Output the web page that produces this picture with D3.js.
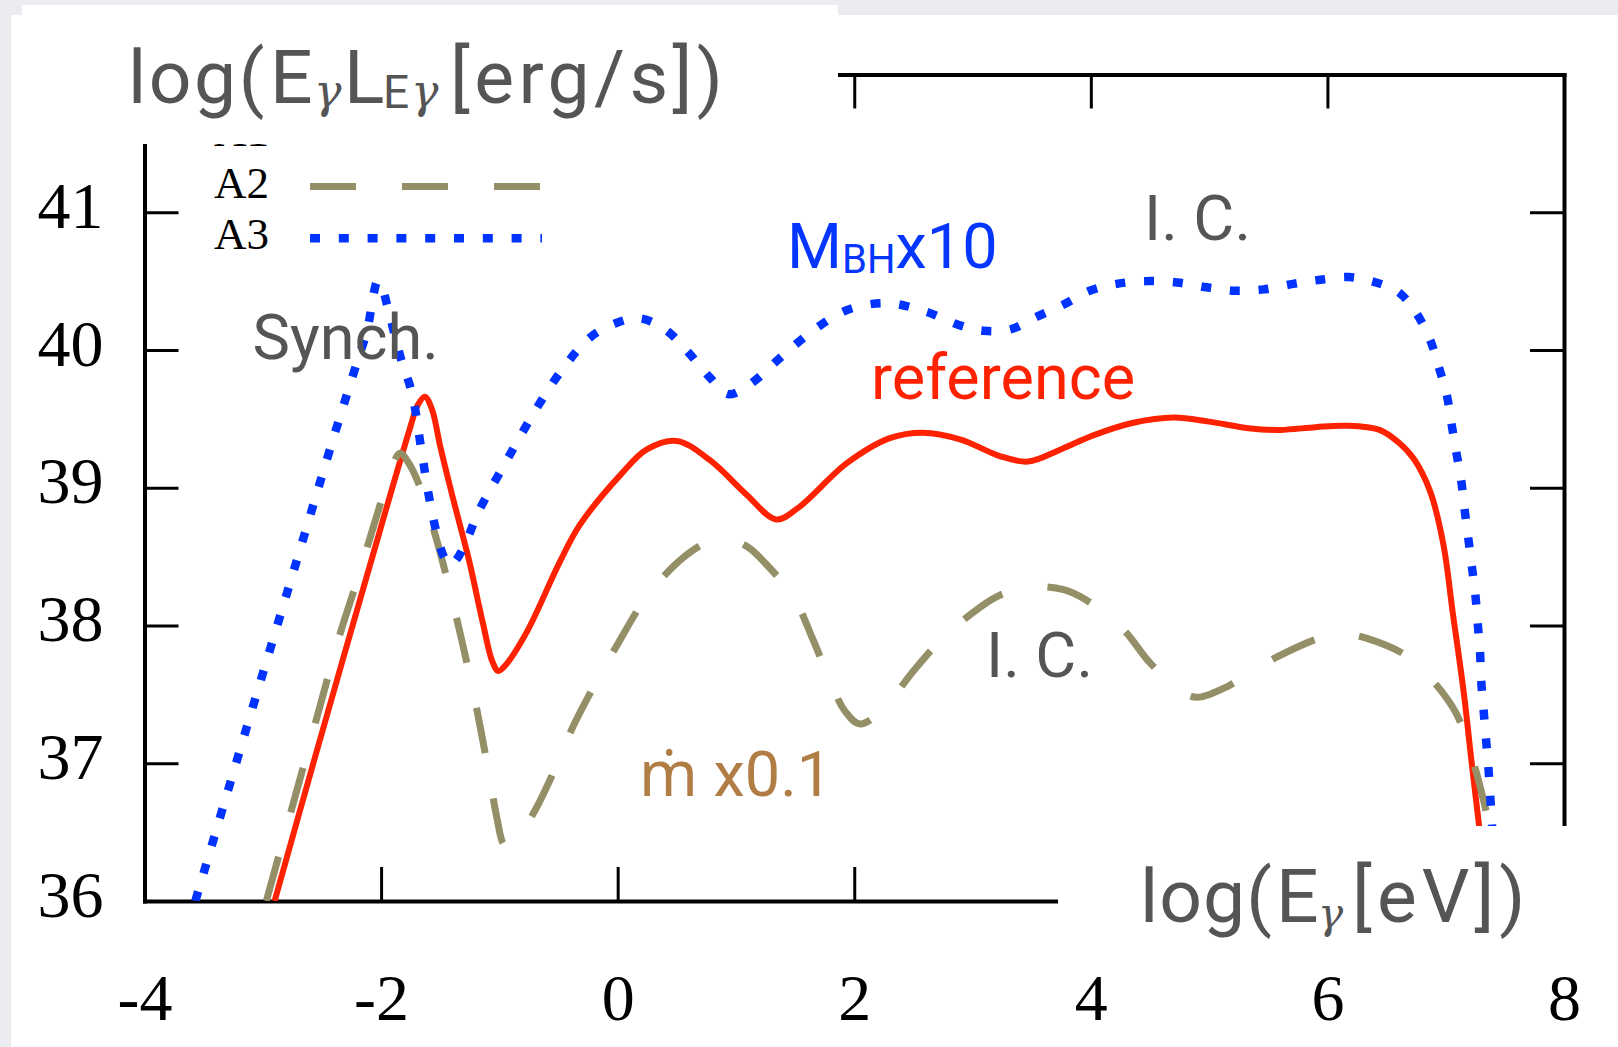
<!DOCTYPE html>
<html>
<head>
<meta charset="utf-8">
<script src="https://cdn.jsdelivr.net/npm/d3@7"></script>
<style>
  html, body { margin: 0; padding: 0; background: #eaecf0; }
  svg { display: block; }
</style>
</head>
<body>
<svg id="chart" width="1618" height="1047"></svg>
<script>
// Axis ticks
const xTicks = [-4, -2, 0, 2, 4, 6, 8];
const yTicks = [36, 37, 38, 39, 40, 41];
const xInnerTicks = [-2, 0, 2, 4, 6];
const yInnerTicks = [37, 38, 39, 40, 41];

// Legend entries
const seriesNames = ["A1", "A2", "A3"];

// Spectra: [log(E_gamma [eV]), log(E_gamma L_E_gamma [erg/s])]
// A1: reference model
const refCurve = [
  [-2.90, 36.00], [-2.54, 37.10], [-2.10, 38.42], [-1.76, 39.42], [-1.69, 39.60],
  [-1.63, 39.66], [-1.57, 39.57], [-1.50, 39.30], [-1.40, 38.95], [-1.30, 38.62],
  [-1.25, 38.45], [-1.14, 38.02], [-1.06, 37.74], [-1.01, 37.67], [-0.95, 37.71],
  [-0.77, 37.95], [-0.49, 38.46], [-0.32, 38.73], [0.02, 39.09], [0.25, 39.28],
  [0.50, 39.34], [0.78, 39.20], [1.09, 38.95], [1.34, 38.77], [1.52, 38.85],
  [1.94, 39.18], [2.30, 39.36], [2.58, 39.40], [2.90, 39.35], [3.23, 39.23],
  [3.47, 39.19], [3.75, 39.28], [4.02, 39.38], [4.35, 39.47], [4.70, 39.51],
  [5.00, 39.48], [5.35, 39.43], [5.60, 39.42], [5.90, 39.44], [6.16, 39.45],
  [6.44, 39.42], [6.60, 39.33], [6.73, 39.21], [6.87, 38.97], [6.98, 38.59],
  [7.06, 38.09], [7.15, 37.53], [7.22, 37.00], [7.28, 36.56], [7.33, 36.15],
  [7.35, 36.00]
];

// A2: accretion rate x0.1
const mdotCurve = [
  [-2.97, 36.00], [-2.54, 37.34], [-2.35, 37.93], [-2.22, 38.28], [-2.00, 38.90],
  [-1.90, 39.17], [-1.84, 39.25], [-1.76, 39.17], [-1.66, 38.98], [-1.55, 38.68],
  [-1.44, 38.33], [-1.32, 37.90], [-1.20, 37.43], [-1.10, 36.98], [-1.02, 36.60],
  [-0.97, 36.42], [-0.93, 36.39], [-0.88, 36.42], [-0.71, 36.64], [-0.54, 36.94],
  [-0.375, 37.27], [-0.21, 37.545], [-0.01, 37.85], [0.19, 38.14], [0.33, 38.30],
  [0.55, 38.49], [0.75, 38.60], [0.935, 38.625], [1.10, 38.57], [1.25, 38.45],
  [1.49, 38.20], [1.65, 37.90], [1.80, 37.59], [1.92, 37.38], [2.05, 37.285],
  [2.25, 37.40], [2.50, 37.67], [2.75, 37.91], [3.06, 38.13], [3.23, 38.22],
  [3.50, 38.28], [3.77, 38.26], [3.95, 38.19], [4.27, 37.975], [4.51, 37.72],
  [4.81, 37.50], [4.92, 37.48], [5.15, 37.555], [5.37, 37.67], [5.57, 37.77],
  [5.94, 37.91], [6.13, 37.94], [6.32, 37.91], [6.67, 37.78], [6.89, 37.60],
  [7.09, 37.36], [7.23, 37.02], [7.32, 36.73], [7.40, 36.40], [7.45, 36.00]
];

// A3: black hole mass x10
const mbhCurve = [
  [-3.57, 36.00], [-3.15, 37.22], [-2.71, 38.48], [-2.40, 39.37], [-2.20, 39.92],
  [-2.116, 40.15], [-2.06, 40.42], [-2.03, 40.50], [-1.99, 40.45], [-1.95, 40.33],
  [-1.83, 39.93], [-1.74, 39.69], [-1.66, 39.28], [-1.60, 38.96], [-1.53, 38.67],
  [-1.47, 38.50], [-1.42, 38.44], [-1.37, 38.47], [-1.275, 38.62], [-1.18, 38.82],
  [-0.95, 39.18], [-0.69, 39.57], [-0.45, 39.88], [-0.22, 40.10], [0.00, 40.20],
  [0.19, 40.23], [0.40, 40.15], [0.58, 40.00], [0.78, 39.80], [0.935, 39.68],
  [1.10, 39.74], [1.37, 39.94], [1.65, 40.14], [1.94, 40.29], [2.27, 40.34],
  [2.60, 40.28], [2.89, 40.18], [3.09, 40.14], [3.32, 40.15], [3.54, 40.24],
  [3.77, 40.33], [3.99, 40.43], [4.22, 40.48], [4.47, 40.50], [4.73, 40.49],
  [4.98, 40.455], [5.22, 40.43], [5.46, 40.44], [5.71, 40.48], [5.94, 40.51],
  [6.18, 40.53], [6.37, 40.50], [6.60, 40.42], [6.75, 40.27], [6.87, 40.07],
  [6.94, 39.88], [7.01, 39.67], [7.05, 39.46], [7.09, 39.255], [7.13, 39.06],
  [7.16, 38.84], [7.19, 38.64], [7.22, 38.435], [7.25, 38.23], [7.27, 38.02],
  [7.29, 37.81], [7.30, 37.60], [7.32, 37.39], [7.34, 37.18], [7.36, 36.98],
  [7.375, 36.78], [7.39, 36.57], [7.41, 36.30], [7.43, 36.00]
];

const W = 1618, H = 1047;
const svg = d3.select("#chart");

const x = d3.scaleLinear().domain([-4, 8]).range([144.5, 1564]);
const y = d3.scaleLinear().domain([36, 42]).range([901, 74.5]);

const SERIF = "'Liberation Serif', 'Times New Roman', serif";
const MATH = "'DejaVu Serif', 'Liberation Serif', serif";
const SANS = "Roboto, 'Noto Sans', 'DejaVu Sans', sans-serif";
const GRAY = "#555555";

// page background and white sheet
svg.append("rect").attr("width", W).attr("height", H).attr("fill", "#eaecf0");
svg.append("rect").attr("x", 11).attr("y", 15).attr("width", W - 11).attr("height", H - 15).attr("fill", "#ffffff");

const defs = svg.append("defs");
defs.append("clipPath").attr("id", "plot-clip")
  .append("rect")
  .attr("x", x(-4)).attr("y", y(42))
  .attr("width", x(8) - x(-4)).attr("height", y(36) - y(42));

// frame and inward ticks
function styleAxis(g) {
  g.attr("fill", null);
  g.select(".domain").attr("stroke", "#000").attr("stroke-width", 4).attr("stroke-linecap", "square");
  g.selectAll(".tick line").attr("stroke", "#000").attr("stroke-width", 3);
}

const gBottom = svg.append("g")
  .attr("transform", `translate(0,${y(36)})`)
  .call(d3.axisBottom(x).tickValues(xTicks).tickSizeInner(-34).tickSizeOuter(0)
    .tickPadding(0).tickFormat(d => String(d)));
styleAxis(gBottom);
gBottom.selectAll(".tick text")
  .attr("y", 119).attr("dy", null)
  .attr("fill", "#000")
  .style("font-family", SERIF).style("font-size", "66px");

const gLeft = svg.append("g")
  .attr("transform", `translate(${x(-4)},0)`)
  .call(d3.axisLeft(y).tickValues(yTicks).tickSizeInner(-34).tickSizeOuter(0)
    .tickPadding(41).tickFormat(d => String(d)));
styleAxis(gLeft);
gLeft.selectAll(".tick text")
  .attr("dy", 15)
  .attr("fill", "#000")
  .style("font-family", SERIF).style("font-size", "66px");

const gTop = svg.append("g")
  .attr("transform", `translate(0,${y(42)})`)
  .call(d3.axisTop(x).tickValues(xInnerTicks).tickSizeInner(-34).tickSizeOuter(0).tickFormat(""));
styleAxis(gTop);

const gRight = svg.append("g")
  .attr("transform", `translate(${x(8)},0)`)
  .call(d3.axisRight(y).tickValues(yInnerTicks).tickSizeInner(-34).tickSizeOuter(0).tickFormat(""));
styleAxis(gRight);

// curves
const seriesStyle = {
  A1: { color: "#ff2200", width: 6, dash: null },
  A2: { color: "#948f66", width: 7, dash: "46 46" },
  A3: { color: "#0033ff", width: 8.5, dash: "10 18.8" }
};
const seriesData = { A1: refCurve, A2: mdotCurve, A3: mbhCurve };

const line = d3.line()
  .x(d => x(d[0]))
  .y(d => y(d[1]))
  .curve(d3.curveCatmullRom.alpha(0.5));

const plot = svg.append("g").attr("clip-path", "url(#plot-clip)");
seriesNames.forEach(name => {
  const s = seriesStyle[name];
  plot.append("path")
    .datum(seriesData[name])
    .attr("d", line)
    .attr("fill", "none")
    .attr("stroke", s.color)
    .attr("stroke-width", s.width)
    .attr("stroke-linejoin", "round")
    .attr("stroke-dasharray", s.dash);
});

// legend (the first row sits under the title box)
const legendClip = defs.append("clipPath").attr("id", "legend-clip");
legendClip.append("rect").attr("x", 150).attr("y", 144).attr("width", 450).attr("height", 130);
const legend = svg.append("g").attr("clip-path", "url(#legend-clip)");
seriesNames.forEach((name, i) => {
  const s = seriesStyle[name];
  const ly = 135 + i * 51.6;
  legend.append("text")
    .attr("x", 214).attr("y", ly + 11)
    .attr("fill", "#000")
    .style("font-family", SERIF).style("font-size", "45px")
    .text(name);
  legend.append("line")
    .attr("x1", 310).attr("x2", 542)
    .attr("y1", ly).attr("y2", ly)
    .attr("stroke", s.color)
    .attr("stroke-width", s.width)
    .attr("stroke-dasharray", s.dash);
});

// white label boxes laid over the plot
svg.append("rect").attr("x", 22).attr("y", 5).attr("width", 816).attr("height", 139).attr("fill", "#ffffff");
svg.append("rect").attr("x", 1058).attr("y", 826).attr("width", W - 1058).attr("height", 120).attr("fill", "#ffffff");

// axis titles built from pieces: [text, x, y, size, math, spacing]
function pieceText(parts) {
  const t = svg.append("text").attr("fill", GRAY);
  parts.forEach(p => {
    t.append("tspan")
      .attr("x", p[1]).attr("y", p[2])
      .style("font-family", p[4] ? MATH : SANS)
      .style("font-style", p[4] ? "italic" : "normal")
      .style("font-size", p[3] + "px")
      .style("letter-spacing", (p[5] || 0) + "px")
      .text(p[0]);
  });
  return t;
}

pieceText([
  ["log(", 128, 103.3, 75, false, 2.5],
  ["E", 270, 103.3, 75, false, 0],
  ["γ", 314, 107, 46, true, 0],
  ["L", 344, 103.3, 75, false, 0],
  ["E", 383, 108, 46, false, 0],
  ["γ", 411, 107, 46, true, 0],
  ["[erg/s])", 450, 103.3, 75, false, 4.4]
]);

pieceText([
  ["log(", 1140, 921.7, 75, false, 1],
  ["E", 1276, 921.7, 75, false, 0],
  ["γ", 1318, 928, 42, true, 0],
  ["[eV])", 1352, 921.7, 75, false, 5]
]);

// annotations
function note(tx, ty, color, parts) {
  const t = svg.append("text")
    .attr("x", tx).attr("y", ty)
    .attr("fill", color)
    .style("font-family", SANS).style("font-size", "63px");
  parts.forEach(p => {
    const ts = t.append("tspan").text(p.text);
    if (p.size) ts.style("font-size", p.size + "px");
    if (p.dy) ts.attr("dy", p.dy);
  });
  return t;
}
note(252.6, 359, GRAY, [{ text: "Synch." }]);
note(787, 268, "#0536ff", [{ text: "M" }, { text: "BH", size: 40, dy: 5 }, { text: "x10", dy: -5 }]);
note(1144, 240, GRAY, [{ text: "I. C." }]);
note(871, 399, "#ff2200", [{ text: "reference" }]);
note(986, 677, GRAY, [{ text: "I. C." }]);
note(639, 796, "#b07d45", [{ text: "m\u0307 x0.1" }]);
</script>
</body>
</html>
